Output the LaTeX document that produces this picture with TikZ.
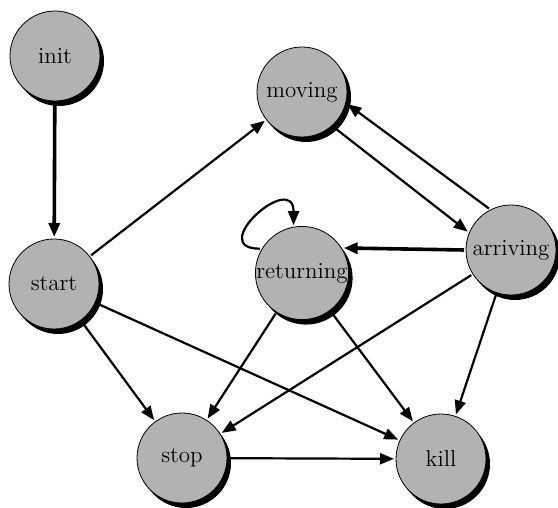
\documentclass[tikz,border=0pt]{standalone}
\usetikzlibrary{arrows.meta,shadows}
\begin{document}
\begin{tikzpicture}[x=0.5pt,y=-0.5pt,
    state/.style={circle,draw=black,line width=0.4pt,fill=gray!60,
        minimum size=45pt,inner sep=0pt,outer sep=1pt,
        font=\fontsize{11.5}{13}\selectfont,
        drop shadow={shadow xshift=2pt,shadow yshift=-2.5pt,fill=black,opacity=1}},
    trans/.style={-{Triangle[length=7pt,width=5.5pt]},line width=1.1pt}]

    \useasboundingbox (0,0) rectangle (558,508);

    \node [state] (init) at (55,56) {init};
    \node [state] (moving) at (302,92) {moving};
    \node [state] (start) at (54,284) {start};
    \node [state] (returning) at (302,273) {returning};
    \node [state] (arriving) at (511,250) {arriving};
    \node [state] (stop) at (182,458) {stop};
    \node [state] (kill) at (441,459) {kill};

    \begin{scope}[trans]
    \draw [line width=1.8pt] (init) -- (start);
    \draw (start) -- (moving);
    \draw (moving.-48) -- (arriving.157);
    \draw (arriving.118) -- (moving.-15);
    \draw [line width=1.8pt] (arriving.180) -- (returning.31);
    \draw (returning.150) .. controls +(-55,0) and +(0,-55) .. (returning.100);
%    \draw (returning) -- (arriving);
    \draw (start) -- (stop);
    \draw (start) -- (kill);
    \draw (returning) -- (stop);
    \draw (returning) -- (kill);
    \draw (arriving) -- (stop);
    \draw (arriving) -- (kill);
    \draw (stop) -- (kill);
    \end{scope}
\end{tikzpicture}
\end{document}
